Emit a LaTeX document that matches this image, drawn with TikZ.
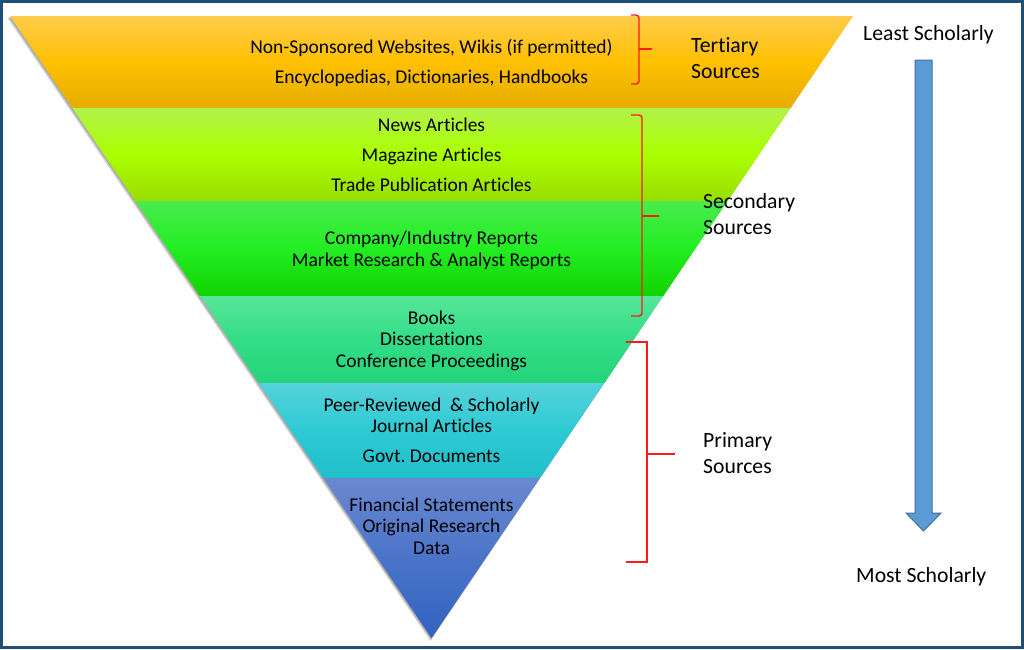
\documentclass[tikz,border=0pt]{standalone}
\usepackage{fontspec}
\setmainfont{Carlito}[Ligatures={NoCommon}]
\frenchspacing
\usetikzlibrary{calc}
\definecolor{frame}{HTML}{1F4E79}
\definecolor{oT}{HTML}{FFCB4C}\definecolor{oM}{HTML}{FFC000}\definecolor{oB}{HTML}{E5AD00}
\definecolor{lT}{HTML}{B2F24A}\definecolor{lM}{HTML}{AAFF00}\definecolor{lB}{HTML}{98DC00}
\definecolor{gT}{HTML}{48EC4C}\definecolor{gM}{HTML}{22EE22}\definecolor{gB}{HTML}{11D200}
\definecolor{mT}{HTML}{58E59A}\definecolor{mM}{HTML}{33DD88}\definecolor{mB}{HTML}{22D478}
\definecolor{cT}{HTML}{55D2DA}\definecolor{cM}{HTML}{2ECAD4}\definecolor{cB}{HTML}{1FBFCA}
\definecolor{bT}{HTML}{6A88D0}\definecolor{bM}{HTML}{4A74C8}\definecolor{bB}{HTML}{3161C0}
\definecolor{arrowfill}{HTML}{5B9BD5}\definecolor{arrowline}{HTML}{41719C}
\definecolor{brk}{HTML}{FF1A1A}
\tikzset{
  tri/.style={font=\fontsize{19.5}{22}\selectfont, anchor=base, inner sep=0pt},
  lbl/.style={font=\fontsize{21.7}{26}\selectfont, anchor=base west, inner sep=0pt},
  brace/.style={draw=brk, line width=1.4pt, rounded corners=3pt},
  sbrace/.style={draw=brk, line width=1.4pt},
  band/.style={draw=none}
}
\begin{document}
\begin{tikzpicture}[x=1pt,y=-1pt]
\useasboundingbox (0,0) rectangle (1024,649);
\fill[white] (0,0) rectangle (1024,649);
\coordinate (TL) at (10,16);
\coordinate (TR) at (853,16);
\coordinate (A) at (431.5,638);
% shadow
\fill[black, opacity=0.18] ($(TL)+(-2.5,2)$) -- ($(TR)+(-2.5,2)$) -- ($(A)+(-1,3)$) -- cycle;
\fill[black, opacity=0.18] ($(TL)+(-1.2,1)$) -- ($(TR)+(-1.2,1)$) -- ($(A)+(-0.5,1.5)$) -- cycle;
\begin{scope}
\clip (TL) -- (TR) -- (A) -- cycle;
\shade[band, top color=oT, bottom color=oB, middle color=oM] (0,16) rectangle (1024,108);
\shade[band, top color=lT, bottom color=lB, middle color=lM] (0,108) rectangle (1024,201);
\shade[band, top color=gT, bottom color=gB, middle color=gM] (0,201) rectangle (1024,296);
\shade[band, top color=mT, bottom color=mB, middle color=mM] (0,296) rectangle (1024,383);
\shade[band, top color=cT, bottom color=cB, middle color=cM] (0,383) rectangle (1024,478);
\shade[band, top color=bT, bottom color=bB, middle color=bM] (0,478) rectangle (1024,640);
\end{scope}
% triangle texts
\node[tri] (t1) at (431.5,53) {Non-Sponsored Websites, Wikis (if permitted)};
\node[tri] (t2) at (431.5,83) {Encyclopedias, Dictionaries, Handbooks};
\node[tri] (s1) at (431.5,131) {News Articles};
\node[tri] (s2) at (431.5,161) {Magazine Articles};
\node[tri] (s3) at (431.5,191) {Trade Publication Articles};
\node[tri] (s4) at (431.5,244) {Company/Industry Reports};
\node[tri] (s5) at (431.5,266) {Market Research \& Analyst Reports};
\node[tri] (s6) at (431.5,324) {Books};
\node[tri] (s7) at (431.5,345) {Dissertations};
\node[tri] (s8) at (431.5,367) {Conference Proceedings};
\node[tri] (p1) at (431.5,411) {Peer-Reviewed\ \ \& Scholarly};
\node[tri] (p2) at (431.5,432) {Journal Articles};
\node[tri] (p3) at (431.5,462) {Govt. Documents};
\node[tri] (p4) at (431.5,511) {Financial Statements};
\node[tri] (p5) at (431.5,532) {Original Research};
\node[tri] (p6) at (431.5,554) {Data};
% brackets
\coordinate (b1a) at (631,15); \coordinate (b1b) at (639,15); \coordinate (b1m) at (639,49);
\coordinate (b1t) at (652,49); \coordinate (b1c) at (639,84); \coordinate (b1d) at (631,84);
\draw[brace] (b1a) -- (b1b) -- (b1m) -- (b1c) -- (b1d);
\draw[brace] (b1m) -- (b1t);
\coordinate (b2a) at (631,115); \coordinate (b2b) at (642,115); \coordinate (b2m) at (642,216);
\coordinate (b2t) at (659,216); \coordinate (b2c) at (642,316); \coordinate (b2d) at (631,316);
\draw[brace] (b2a) -- (b2b) -- (b2m) -- (b2c) -- (b2d);
\draw[brace] (b2m) -- (b2t);
\coordinate (b3a) at (626,342); \coordinate (b3b) at (647,342); \coordinate (b3m) at (647,454);
\coordinate (b3t) at (675,454); \coordinate (b3c) at (647,562); \coordinate (b3d) at (626,562);
\draw[sbrace] (b3a) -- (b3b) -- (b3c) -- (b3d);
\draw[sbrace] (b3m) -- (b3t);
% labels
\node[lbl] (L1a) at (691,52) {Tertiary};
\node[lbl] (L1b) at (691,78) {Sources};
\node[lbl] (L2a) at (703,208) {Secondary};
\node[lbl] (L2b) at (703,234) {Sources};
\node[lbl] (L3a) at (703,447) {Primary};
\node[lbl] (L3b) at (703,473) {Sources};
\node[lbl] (least) at (863,40) {Least Scholarly};
\node[lbl] (most) at (856,582) {Most Scholarly};
% arrow
\fill[arrowfill, draw=arrowline, line width=1pt, line join=miter]
  (915,60) -- (932,60) -- (932,513) -- (941,513) -- (923.5,531) -- (906,513) -- (915,513) -- cycle;
% frame
\draw[frame, line width=3pt] (1.5,1.5) rectangle (1022.5,647.5);
\end{tikzpicture}
\end{document}
